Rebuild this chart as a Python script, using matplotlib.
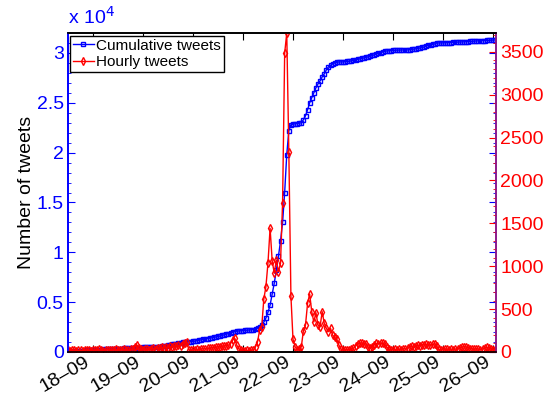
import numpy as np
import matplotlib
matplotlib.use("Agg")
import matplotlib.pyplot as plt
from matplotlib.ticker import MultipleLocator

plt.rcParams['font.family'] = ['Liberation Sans', 'DejaVu Sans']

# hourly tweet counts, starting 17-09 12:00, one value per hour
hourly = [
    20, 15, 25, 18, 12, 20, 22, 15, 18, 25, 20, 17,
    22, 18, 25, 30, 20, 15, 25, 28, 22, 18, 26, 30, 24, 20, 28, 32, 25, 22, 30,
    35, 55, 85, 50, 30, 25,
    30, 35, 28, 40, 45, 38, 50, 42, 55, 48, 60, 52, 65, 58,
    70, 65, 80, 75, 95, 110, 120,
    25, 20, 22,
    25, 30, 28, 35, 40, 38, 45, 42, 50, 48, 55, 60, 58, 65, 70, 75, 80, 95,
    140, 160, 80, 40, 20,
    15, 12, 18, 15, 20, 25,
    60, 120, 260, 296, 620, 762, 1042, 1443, 1066, 918, 1074, 937, 1035, 1742,
    3485, 3720, 2338, 653, 148, 62, 23, 30, 62, 249, 315, 568, 677, 470, 350,
    459, 315, 296, 470, 335, 276, 237, 276, 198, 171, 150, 82, 35,
    25, 20, 28, 22, 30, 45,
    70, 95, 100, 105, 90, 95,
    60, 45, 55,
    85, 100, 95, 105, 100, 90,
    60, 30, 25,
    25, 30, 22, 35, 28, 40, 35, 45, 60, 70, 55, 65,
    80, 75, 85, 80, 90, 78, 82, 88, 95, 70,
    30, 25, 28, 35, 30, 25, 32, 28, 35, 40, 45, 55, 62, 58, 48, 40, 35, 30,
    38, 32, 28, 35, 45, 55, 48, 35, 25, 20,
]

# cumulative tweet counts at the same hours
cumulative = [
    10, 30, 45, 60, 80, 95, 110, 125, 140, 160, 175, 190,
    210, 220, 230, 240, 250, 260, 270, 280, 290, 300, 310, 320, 330, 340, 350,
    360, 370, 380, 390, 400, 415, 430, 440, 450,
    460,
    470, 480, 490, 500, 510, 515, 525,
    530, 570, 610, 650, 690, 730, 770, 810, 850, 890, 930, 965,
    1000, 1015, 1030, 1045,
    1060,
    1100, 1140, 1180, 1220, 1260, 1300, 1340, 1380, 1420, 1460, 1510, 1555,
    1600,
    1660, 1720, 1780, 1850, 1920, 1990,
    2050,
    2090, 2110, 2130,
    2150, 2165, 2180, 2200, 2220, 2250, 2300, 2400,
    2500, 2700, 3000, 3400, 4000, 4700, 5800, 6900, 8200, 9600, 11100, 13000,
    16000, 19800, 22200, 22800,
    22850, 22900, 22920, 22950, 23000,
    23300, 23700, 24300, 25000, 25500, 26000, 26500, 26900, 27200, 27600,
    27900, 28300, 28600, 28750, 28900, 29000, 29050, 29100, 29100,
    29100, 29120, 29150, 29170, 29200, 29250, 29300, 29350, 29400, 29450,
    29500, 29550, 29600, 29650, 29750, 29800, 29900, 29950, 30000, 30100,
    30150, 30200, 30220,
    30240, 30260, 30270, 30280, 30290, 30300, 30300, 30310, 30300, 30320,
    30350, 30380, 30400,
    30450, 30500, 30550, 30600, 30700, 30750, 30800, 30850, 30900, 31000, 31000,
    31000, 31010, 31020, 31030, 31040, 31045, 31050, 31060, 31070, 31080,
    31090, 31100, 31110, 31120, 31150, 31170, 31190, 31200, 31210, 31220,
    31230, 31240, 31250, 31260, 31270, 31280, 31300,
]

start_day = 17.5  # 17-09 12:00
tick_days = [18, 19, 20, 21, 22, 23, 24, 25, 26]
tick_labels = ["18–09", "19–09", "20–09", "21–09", "22–09",
               "23–09", "24–09", "25–09", "26–09"]
left_ticks = [0, 5000, 10000, 15000, 20000, 25000, 30000]
left_tick_labels = ["0", "0.5", "1", "1.5", "2", "2.5", "3"]
right_ticks = [0, 500, 1000, 1500, 2000, 2500, 3000, 3500]

n = min(len(hourly), len(cumulative))
t = start_day + np.arange(n) / 24.0

BLUE = "#0000ff"
RED = "#ff0000"
PURPLE = "#8b1a8b"

fig = plt.figure(figsize=(5.51, 3.95), dpi=100)
ax = fig.add_axes([68/551, 43/395, 428/551, 319/395])
ax2 = ax.twinx()

l1, = ax.plot(t, cumulative[:n], color=BLUE, lw=1.0, marker='s', ms=3.4,
              mfc='none', mec=BLUE, mew=1.0, label="Cumulative tweets")
l2, = ax2.plot(t, hourly[:n], color=RED, lw=1.0, marker='d', ms=4.0,
               mfc='none', mec=RED, mew=1.0, label="Hourly tweets")

ax.set_xlim(start_day, 26.06)
ax.set_ylim(0, 32000)
ax2.set_ylim(0, 3720)

ax.set_xticks(tick_days)
ax.set_xticklabels(tick_labels, rotation=30, ha='right', va='top',
                   rotation_mode='default', fontsize=14)
ax.set_yticks(left_ticks)
ax.set_yticklabels(left_tick_labels, fontsize=14, color=BLUE)
ax.yaxis.set_minor_locator(MultipleLocator(1000))
ax2.set_yticks(right_ticks)
ax2.set_yticklabels([str(v) for v in right_ticks], fontsize=14, color=RED)
ax2.yaxis.set_minor_locator(MultipleLocator(100))

ax.tick_params(axis='x', direction='in', length=5, top=True, bottom=True,
               color='black', pad=1)
ax.tick_params(axis='y', which='major', direction='in', length=5,
               left=True, right=True, colors=BLUE, pad=3)
ax.tick_params(axis='y', which='minor', direction='in', length=2.5,
               left=True, right=True, color=BLUE)
ax2.tick_params(axis='y', which='major', direction='in', length=5,
                colors=RED, pad=3)
ax2.tick_params(axis='y', which='minor', direction='in', length=2.5,
                color=RED)

for a in (ax, ax2):
    a.spines['top'].set_color('black')
    a.spines['bottom'].set_color('black')
    a.spines['left'].set_color(BLUE)
    a.spines['right'].set_color(PURPLE)
    for s in a.spines.values():
        s.set_linewidth(1.2)

ax.set_ylabel("Number of tweets", fontsize=14, labelpad=1)
ax.text(0.0, 1.015, r"x 10$^{4}$", transform=ax.transAxes, color=BLUE,
        fontsize=14, ha='left', va='bottom')

leg = ax2.legend(handles=[l1, l2], loc='upper left',
                 bbox_to_anchor=(0.004, 0.992), borderaxespad=0,
                 fontsize=11, frameon=True, fancybox=False, edgecolor='black',
                 handlelength=1.4, handletextpad=0.15, labelspacing=0.15,
                 borderpad=0.2, framealpha=1)
leg.get_frame().set_linewidth(1.0)

fig.savefig("out.png", dpi=100)
